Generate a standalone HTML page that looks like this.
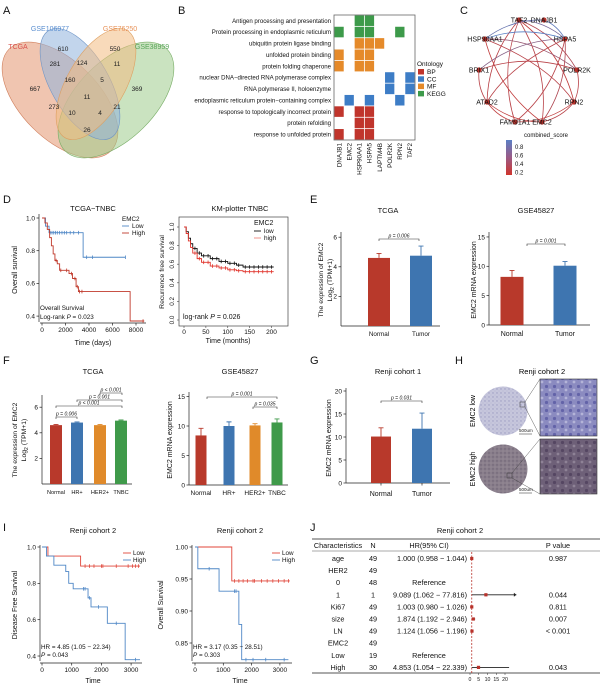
<!DOCTYPE html>
<html><head><meta charset="utf-8"><style>
html,body{margin:0;padding:0;background:#fff}
svg{display:block;font-family:"Liberation Sans",sans-serif}
</style></head><body>
<svg id="fig" width="604" height="685" viewBox="0 0 604 685" xmlns="http://www.w3.org/2000/svg">
<defs>
<linearGradient id="cbar" x1="0" y1="0" x2="0" y2="1"><stop offset="0" stop-color="#5b7fc4"/><stop offset="0.5" stop-color="#9a5a86"/><stop offset="1" stop-color="#d0352c"/></linearGradient>
<pattern id="pLow" width="4" height="4" patternUnits="userSpaceOnUse"><rect width="4" height="4" fill="#c6c6dc"/><circle cx="1" cy="1" r="0.7" fill="#9a9ac0"/><circle cx="3" cy="3" r="0.5" fill="#b0b0cc"/></pattern>
<pattern id="pLowZ" width="8" height="8" patternUnits="userSpaceOnUse"><rect width="8" height="8" fill="#8b8bc0"/><circle cx="2.5" cy="2.5" r="1.6" fill="#6363a8"/><circle cx="6" cy="6" r="1.4" fill="#b4b4d8"/></pattern>
<pattern id="pHigh" width="4" height="4" patternUnits="userSpaceOnUse"><rect width="4" height="4" fill="#8a7f8c"/><circle cx="1" cy="1" r="0.7" fill="#6a5e70"/><circle cx="3" cy="3" r="0.5" fill="#a49aa4"/></pattern>
<pattern id="pHighZ" width="8" height="8" patternUnits="userSpaceOnUse"><rect width="8" height="8" fill="#6e6078"/><circle cx="2.5" cy="2.5" r="1.6" fill="#554662"/><circle cx="6" cy="6" r="1.4" fill="#8e8296"/></pattern>
</defs>
<g font-size="11" fill="#111">
<text x="3" y="14">A</text>
<text x="178" y="14">B</text>
<text x="460" y="14">C</text>
<text x="3" y="203">D</text>
<text x="310" y="203">E</text>
<text x="3" y="364">F</text>
<text x="310" y="364">G</text>
<text x="455" y="364">H</text>
<text x="3" y="531">I</text>
<text x="310" y="531">J</text>
</g>
<!-- Venn -->
<g stroke-width="0.6">
<ellipse cx="60" cy="100" rx="72" ry="39" transform="rotate(45 60 100)" fill="#e3956f" fill-opacity="0.55" stroke="#d07f5c"/>
<ellipse cx="116" cy="100" rx="72" ry="39" transform="rotate(-45 116 100)" fill="#9fcc8c" fill-opacity="0.55" stroke="#78ad66"/>
<ellipse cx="80" cy="84" rx="62" ry="29" transform="rotate(60 80 84)" fill="#8fb2dc" fill-opacity="0.55" stroke="#6f95c6"/>
<ellipse cx="96" cy="84" rx="62" ry="29" transform="rotate(-60 96 84)" fill="#f2bb82" fill-opacity="0.55" stroke="#dd9f60"/>
</g>
<g font-size="7" text-anchor="middle">
<text x="18" y="49" fill="#d9534f">TCGA</text>
<text x="50" y="31" fill="#5b8fd0">GSE106977</text>
<text x="120" y="31" fill="#e8935a">GSE76250</text>
<text x="152" y="49" fill="#5aa55a">GSE38959</text>
</g>
<g font-size="6.5" text-anchor="middle" fill="#222">
<text x="63" y="51">610</text><text x="115" y="51">550</text><text x="55" y="66">281</text><text x="82" y="65">124</text><text x="117" y="66">11</text>
<text x="70" y="82">160</text><text x="102" y="82">5</text><text x="35" y="91">667</text><text x="87" y="99">11</text><text x="137" y="91">369</text>
<text x="54" y="109">273</text><text x="72" y="115">10</text><text x="100" y="115">4</text><text x="117" y="109">21</text><text x="87" y="132">26</text>
</g>
<g id="g-heat"></g>
<g id="g-net"></g>
<g id="g-d1"></g>
<g id="g-d2"></g>
<g id="g-e1"></g>
<g id="g-e2"></g>
<g id="g-f1"></g>
<g id="g-f2"></g>
<g id="g-g"></g>
<!-- H -->
<g>
<text x="542" y="374" font-size="7.5" text-anchor="middle">Renji cohort 2</text>
<circle cx="503" cy="411" r="24.5" fill="url(#pLow)"/>
<rect x="540" y="379" width="57" height="57" fill="url(#pLowZ)" stroke="#333" stroke-width="0.6"/>
<rect x="520" y="402" width="5" height="5" fill="none" stroke="#333" stroke-width="0.5"/>
<line x1="525" y1="402" x2="540" y2="379" stroke="#333" stroke-width="0.4"/><line x1="525" y1="407" x2="540" y2="436" stroke="#333" stroke-width="0.4"/>
<circle cx="503" cy="469" r="24.5" fill="url(#pHigh)"/>
<rect x="540" y="439" width="57" height="55" fill="url(#pHighZ)" stroke="#333" stroke-width="0.6"/>
<rect x="507" y="473" width="5" height="5" fill="none" stroke="#333" stroke-width="0.5"/>
<line x1="512" y1="473" x2="540" y2="439" stroke="#333" stroke-width="0.4"/><line x1="512" y1="478" x2="540" y2="494" stroke="#333" stroke-width="0.4"/>
<text x="519" y="432" font-size="4.5" fill="#222">500um</text><line x1="519" y1="434" x2="532" y2="434" stroke="#222" stroke-width="0.5"/>
<text x="519" y="491" font-size="4.5" fill="#222">500um</text><line x1="519" y1="493" x2="532" y2="493" stroke="#222" stroke-width="0.5"/>
<text transform="translate(475 411) rotate(-90)" font-size="7" text-anchor="middle">EMC2 low</text>
<text transform="translate(475 469) rotate(-90)" font-size="7" text-anchor="middle">EMC2 high</text>
</g>
<g id="g-i1"></g>
<g id="g-i2"></g>
<g id="g-j"></g>
</svg>
<script>
// ---------- data ----------
const heatRows=["Antigen processing and presentation","Protein processing in endoplasmic reticulum","ubiquitin protein ligase binding","unfolded protein binding","protein folding chaperone","nuclear DNA\u2212directed RNA polymerase complex","RNA polymerase II, holoenzyme","endoplasmic reticulum protein\u2212containing complex","response to topologically incorrect protein","protein refolding","response to unfolded protein"];
const heatCols=["DNAJB1","EMC2","HSP90AA1","HSPA5","LAPTM4B","POLR2K","RPN2","TAF2"];
const heatCells=[["KEGG",[2,3]],["KEGG",[0,2,3,6]],["MF",[2,3,4]],["MF",[0,2,3]],["MF",[0,2,3]],["CC",[5,7]],["CC",[5,7]],["CC",[1,3,6]],["BP",[0,2,3]],["BP",[2,3]],["BP",[0,2,3]]];
const ontology=["BP","CC","MF","KEGG"];
const ontoColor={BP:"#c0352c",CC:"#3d7dc6",MF:"#e58a2a",KEGG:"#3d9a4a"};

const netNodes=["TAF2","DNAJB1","HSPA5","POLR2K","RPN2","EMC2","FAM91A1","ATAD2","BRIX1","HSP90AA1"];
const netEdges=[["TAF2","EMC2",0.3],["TAF2","RPN2",0.25],["TAF2","ATAD2",0.3],["TAF2","POLR2K",0.35],["TAF2","HSPA5",0.7],["TAF2","FAM91A1",0.3],["HSP90AA1","HSPA5",0.9],["HSP90AA1","DNAJB1",0.8],["DNAJB1","HSPA5",0.85],["HSP90AA1","POLR2K",0.5],["HSP90AA1","RPN2",0.3],["HSP90AA1","EMC2",0.25],["HSPA5","FAM91A1",0.3],["HSPA5","ATAD2",0.3],["HSPA5","EMC2",0.35],["HSPA5","BRIX1",0.6],["BRIX1","POLR2K",0.3],["BRIX1","ATAD2",0.3],["ATAD2","FAM91A1",0.25],["ATAD2","EMC2",0.25],["EMC2","RPN2",0.3],["FAM91A1","RPN2",0.25],["RPN2","POLR2K",0.3]];

const d1LowT=[0,300,600,3500,7100]; const d1LowS=[1,0.95,0.91,0.76,0.76];
const d1LowC=[700,850,1000,1150,1300,1500,1700,1900,2100,2400,2700,3100,3800,4300,7100];
const d1HighT=[0,250,450,650,800,950,1100,1300,1500,1800,2300,2600,2900,3100,7500,8700];
const d1HighS=[1,0.97,0.93,0.88,0.83,0.78,0.74,0.72,0.68,0.68,0.66,0.63,0.58,0.55,0.37,0.37];
const d1HighC=[1200,1600,2100,2500,2800,3000,3200,3400,8600];

const d2LowT=[0,5,10,15,20,30,40,60,80,100,120,135,205];
const d2LowS=[1,0.95,0.88,0.82,0.77,0.72,0.69,0.66,0.63,0.61,0.59,0.57,0.57];
const d2HighS=[1,0.93,0.85,0.78,0.72,0.66,0.62,0.58,0.56,0.54,0.53,0.52,0.52];
const d2Cens=[25,35,45,55,65,75,85,95,105,115,125,140,150,160,170,180,190,200];

const eCats=["Normal","Tumor"];
const e1Vals=[4.6,4.75]; const e1Err=[4.9,5.4];
const e2Vals=[8.2,10.1]; const e2Err=[9.3,10.8];
const fCats=["Normal","HR+","HER2+","TNBC"];
const f1Vals=[4.6,4.8,4.6,4.95]; const f1Err=[4.65,4.85,4.65,5.0];
const f2Vals=[8.4,10.0,10.1,10.6]; const f2Err=[9.6,10.7,10.4,11.2];
const gVals=[10.1,11.8]; const gErr=[12.0,15.2];
const barColors=["#b8392b","#3e75b0","#e08a2a","#3f9a4a"];

const i1LowT=[0,200,1300,3300]; const i1LowS=[1,0.95,0.895,0.895];
const i1LowC=[1450,1600,1750,2000,2050,2500,2900,3050,3150,3250];
const i1HighT=[0,150,400,800,900,1050,1550,1650,2200,2800,3300];
const i1HighS=[1,0.95,0.9,0.865,0.8,0.77,0.72,0.67,0.58,0.38,0.38];
const i1HighC=[1400,1450,1600,1900,2500,3150];
const i2LowT=[0,1300,3350]; const i2LowS=[1,0.947,0.947];
const i2LowC=[1400,1550,1700,1850,2050,2100,2350,2550,2750,2950,3150,3300];
const i2HighT=[0,100,850,1550,1650,3300]; const i2HighS=[1,0.966,0.931,0.879,0.824,0.824];
const i2HighC=[500,1400,1450,1800,2050,2500,3150];

const jLabels=["age","HER2","0","1","Ki67","size","LN","EMC2","Low","High"];
const jN=["49","49","48","1","49","49","49","49","19","30"];
const jHRtext=["1.000 (0.958 \u2212 1.044)","","Reference","9.089 (1.062 \u2212 77.816)","1.003 (0.980 \u2212 1.026)","1.874 (1.192 \u2212 2.946)","1.124 (1.056 \u2212 1.196)","","Reference","4.853 (1.054 \u2212 22.339)"];
const jHR=[1.0,null,null,9.089,1.003,1.874,1.124,null,null,4.853];
const jLo=[0.958,null,null,1.062,0.980,1.192,1.056,null,null,1.054];
const jHi=[1.044,null,null,77.816,1.026,2.946,1.196,null,null,22.339];
const jP=["0.987","","","0.044","0.811","0.007","< 0.001","","","0.043"];
const jTicks=[0,5,10,15,20];

// ---------- helpers ----------
const NS="http://www.w3.org/2000/svg";
function mk(tag,attrs,parent){const e=document.createElementNS(NS,tag);for(const k in attrs)e.setAttribute(k,attrs[k]);parent.appendChild(e);return e;}
function tx(parent,x,y,s,size,anchor,extra){const e=mk("text",Object.assign({x:x,y:y,"font-size":size,"text-anchor":anchor||"start",fill:"#111"},extra||{}),parent);e.textContent=s;return e;}
function yAxis(g,x,ys,ticks,labels,y0,y1,size){
  const l=mk("line",{x1:x,x2:x,y1:y0,y2:y1,stroke:"#222","stroke-width":0.7},g);
  
  
  ticks.forEach((v,i)=>{const t=mk("line",{x1:x-2.5,x2:x,y1:ys(v),y2:ys(v),stroke:"#222","stroke-width":0.7},g);
    
    
    const lb=tx(g,x-4,ys(v)+2.3,labels[i],size||6.5,"end");
    
    });
}
function xAxis(g,y,xs,ticks,labels,x0,x1,size){
  const l=mk("line",{x1:x0,x2:x1,y1:y,y2:y,stroke:"#222","stroke-width":0.7},g);
  
  
  ticks.forEach((v,i)=>{const t=mk("line",{x1:xs(v),x2:xs(v),y1:y,y2:y+2.5,stroke:"#222","stroke-width":0.7},g);
    
    
    const lb=tx(g,xs(v),y+9,labels[i],size||6.5,"middle");
    
    });
}
function rotLabel(g,x,y,s,size){const e=tx(g,0,0,s,size||7,"middle",{transform:`translate(${x} ${y}) rotate(-90)`});return e;}
function stepPath(T,S,xs,ys){let d=`M${xs(T[0])},${ys(S[0])}`;for(let i=1;i<T.length;i++)d+=`H${xs(T[i])}V${ys(S[i])}`;return d;}
function survAt(T,S,t){let s=S[0];for(let i=0;i<T.length;i++)if(T[i]<=t)s=S[i];return s;}
function km(g,T,S,C,xs,ys,color,name){
  const p=mk("path",{d:stepPath(T,S,xs,ys),fill:"none",stroke:color,"stroke-width":0.9},g);
  
  
  C.forEach(c=>{const y=ys(survAt(T,S,c));const m=mk("line",{x1:xs(c),x2:xs(c),y1:y-1.8,y2:y+1.8,stroke:color,"stroke-width":0.8},g);
    
    });
}
function bars(g,cats,vals,errs,xc,w,ys,base,labelY,lsize){
  cats.forEach((c,i)=>{
    const r=mk("rect",{x:xc[i]-w/2,y:ys(vals[i]),width:w,height:base-ys(vals[i]),fill:barColors[i]},g);
    
    
    const e=mk("path",{d:`M${xc[i]},${ys(vals[i])}V${ys(errs[i])}M${xc[i]-2.5},${ys(errs[i])}H${xc[i]+2.5}`,stroke:barColors[i],"stroke-width":0.9,fill:"none"},g);
    
    
    const l=tx(g,xc[i],labelY,c,lsize||6.5,"middle");
    
    
  });
}
function bracket(g,x1,x2,y,s){
  const p=mk("path",{d:`M${x1},${y+2}V${y}H${x2}V${y+2}`,fill:"none",stroke:"#333","stroke-width":0.6},g);
  
  
  const t=tx(g,(x1+x2)/2,y-1.5,s,5,"middle",{"font-style":"italic"});
  
  
}

// ---------- B heatmap ----------
(function(){
  const g=document.getElementById("g-heat");
  const bx=334,by=15,bw=81,bh=125,cw=bw/heatCols.length,rh=bh/heatRows.length;
  heatCells.forEach((row,r)=>{row[1].forEach(c=>{
    const e=mk("rect",{x:bx+c*cw+0.4,y:by+r*rh+0.4,width:cw-0.8,height:rh-0.8,fill:ontoColor[row[0]]},g);
    
    });});
  const b=mk("rect",{x:bx,y:by,width:bw,height:bh,fill:"none",stroke:"#666","stroke-width":0.8},g);
  
  
  heatRows.forEach((s,r)=>{const t=tx(g,bx-3,by+(r+0.5)*rh+2.2,s,6.1,"end");
    
    });
  heatCols.forEach((s,c)=>{const t=tx(g,0,0,s,6.3,"end",{transform:`translate(${bx+(c+0.5)*cw+2.2} ${by+bh+3}) rotate(-90)`});
    
    });
  const lt=tx(g,417,66,"Ontology",6.5,"start");
  
  
  ontology.forEach((o,i)=>{const y=69+i*7.3;
    const r=mk("rect",{x:418,y:y,width:6,height:5.5,fill:ontoColor[o]},g);
    
    
    const t=tx(g,427,y+5,o,6.5,"start");
    
    });
})();

// ---------- C network ----------
(function(){
  const g=document.getElementById("g-net");
  const pos={TAF2:[519,20],DNAJB1:[544,20],HSPA5:[565,39],POLR2K:[577,70],RPN2:[574,102],EMC2:[542,122],FAM91A1:[515,122],ATAD2:[487,102],BRIX1:[479,70],HSP90AA1:[485,39]};
  const cx=528,cy=71;
  const col=s=>{const t=Math.min(1,Math.max(0,(s-0.2)/0.7));const r=Math.round(200+(85-200)*t),gg=Math.round(55+(125-55)*t),b=Math.round(50+(195-50)*t);return `rgb(${r},${gg},${b})`;};
  netEdges.forEach(e=>{const a=pos[e[0]],b=pos[e[1]];const mx=(a[0]+b[0])/2,my=(a[1]+b[1])/2;
    let dx=mx-cx,dy=my-cy;const L=Math.hypot(dx,dy)||1;const len=Math.hypot(b[0]-a[0],b[1]-a[1]);
    const k=0.18*len;const qx=mx+dx/L*k,qy=my+dy/L*k;
    const p=mk("path",{d:`M${a[0]},${a[1]}Q${qx},${qy} ${b[0]},${b[1]}`,fill:"none",stroke:col(e[2]),"stroke-width":0.8},g);
    
    });
  netNodes.forEach(n=>{const p=pos[n];
    const c=mk("circle",{cx:p[0],cy:p[1],r:2.6,fill:"#b8322b"},g);
    
    
    const t=tx(g,p[0],p[1]+2.5,n,7,"middle");
    
    });
  const ct=tx(g,546,137,"combined_score",6,"middle");
  
  
  const cb=mk("rect",{x:506,y:140,width:6,height:35,fill:"url(#cbar)"},g);
  
  
  ["0.8","0.6","0.4","0.2"].forEach((s,i)=>{const t=tx(g,515,149+i*8.5,s,6,"start");
    
    });
})();

// ---------- D left ----------
(function(){
  const g=document.getElementById("g-d1");
  const xs=t=>42+t*0.01175, ys=s=>218+(1-s)*163.5;
  yAxis(g,39,ys,[1.0,0.8,0.6,0.4],["1.0","0.8","0.6","0.4"],214,322);
  xAxis(g,323,xs,[0,2000,4000,6000,8000],["0","2000","4000","6000","8000"],40,146);
  km(g,d1LowT,d1LowS,d1LowC,xs,ys,"#4f87c6","low");
  km(g,d1HighT,d1HighS,d1HighC,xs,ys,"#c0392b","high");
  let t=tx(g,93,211,"TCGA\u2212TNBC",7.5,"middle");  
  t=tx(g,93,345,"Time (days)",7,"middle");  
  t=rotLabel(g,17,270,"Overall survival",7);  
  t=tx(g,40,310,"Overall Survival",6.3,"start");  
  t=tx(g,40,319,"Log-rank ",6.3,"start");  
  t.innerHTML='Log-rank <tspan font-style="italic">P</tspan> = 0.023';
  t=tx(g,122,221,"EMC2",6.3,"start");  
  [["Low","#4f87c6",228],["High","#c0392b",235]].forEach(a=>{const l=mk("line",{x1:122,x2:129,y1:a[2]-2,y2:a[2]-2,stroke:a[1],"stroke-width":0.9},g);
     
    const q=tx(g,132,a[2],a[0],6.3,"start");  });
})();

// ---------- D right ----------
(function(){
  const g=document.getElementById("g-d2");
  const xs=t=>184+t*0.4375, ys=s=>320-s*93;
  const fr=mk("rect",{x:179,y:217,width:109,height:109,fill:"none",stroke:"#444","stroke-width":0.7},g);
   
  [0,0.2,0.4,0.6,0.8,1.0].forEach(v=>{const l=mk("line",{x1:177,x2:179,y1:ys(v),y2:ys(v),stroke:"#444","stroke-width":0.6},g);
     
    const t=tx(g,0,0,v.toFixed(1),6.3,"middle",{transform:`translate(174 ${ys(v)}) rotate(-90)`});
     });
  [0,50,100,150,200].forEach(v=>{const l=mk("line",{x1:xs(v),x2:xs(v),y1:326,y2:328,stroke:"#444","stroke-width":0.6},g);
     
    const t=tx(g,xs(v),334,String(v),6.5,"middle");  });
  km(g,d2LowT,d2LowS,d2Cens,xs,ys,"#111","low");
  km(g,d2LowT,d2HighS,d2Cens,xs,ys,"#e0322a","high");
  let t=tx(g,240,211,"KM-plotter TNBC",7.5,"middle");  
  t=tx(g,228,343,"Time (months)",7,"middle");  
  t=rotLabel(g,164,272,"Recurrence free survival",6.8);  
  t=tx(g,183,319,"",7,"start");  
  t.innerHTML='log-rank <tspan font-style="italic">P</tspan> = 0.026';
  t=tx(g,254,225,"EMC2",7,"start");  
  [["low","#111",233],["high","#f08a80",240]].forEach(a=>{const l=mk("line",{x1:254,x2:261,y1:a[2]-2,y2:a[2]-2,stroke:a[1],"stroke-width":0.9},g);
     
    const q=tx(g,264,a[2],a[0],6.5,"start");  });
})();

// ---------- E ----------
(function(){
  let g=document.getElementById("g-e1");
  let ys=v=>326-v*14.8;
  yAxis(g,341,ys,[2,4,6],["2","4","6"],232,326);
  let xl=mk("line",{x1:341,x2:440,y1:326,y2:326,stroke:"#222","stroke-width":0.7},g);  
  bars(g,eCats,e1Vals,e1Err,[379,421],22,ys,326,336,6.3);
  bracket(g,379,419,239,"p = 0.006");
  let t=tx(g,388,213,"TCGA",7.5,"middle");  
  t=rotLabel(g,323,280,"The expression of EMC2",6.8);  
  t=rotLabel(g,332,280,"",6.8);  
  t.innerHTML='Log<tspan font-size="5" dy="2">2</tspan><tspan dy="-2"> (TPM+1)</tspan>';
  g=document.getElementById("g-e2");
  ys=v=>325-v*5.87;
  yAxis(g,489,ys,[0,5,10,15],["0","5","10","15"],232,325);
  xl=mk("line",{x1:489,x2:590,y1:325,y2:325,stroke:"#222","stroke-width":0.7},g);  
  bars(g,eCats,e2Vals,e2Err,[512,565],23,ys,325,336,7);
  bracket(g,527,565,244,"p = 0.001");
  t=tx(g,536,213,"GSE45827",7.5,"middle");  
  t=rotLabel(g,476,280,"EMC2 mRNA expression",7);  
})();

// ---------- F ----------
(function(){
  let g=document.getElementById("g-f1");
  let ys=v=>484-v*12.8;
  yAxis(g,42,ys,[2,4,6],["2","4","6"],395,484);
  let xl=mk("line",{x1:42,x2:132,y1:484,y2:484,stroke:"#222","stroke-width":0.7},g);  
  bars(g,fCats,f1Vals,f1Err,[56,77,100,121],12,ys,484,494,5.6);
  bracket(g,56,77,417,"p = 0.006");
  bracket(g,56,122,406,"p < 0.001");
  bracket(g,77,122,400,"p = 0.001");
  bracket(g,100,122,393,"p < 0.001");
  let t=tx(g,93,374,"TCGA",7.5,"middle");  
  t=rotLabel(g,17,440,"The expression of EMC2",6.8);  
  t=rotLabel(g,26,440,"",6.8);  
  t.innerHTML='Log<tspan font-size="5" dy="2">2</tspan><tspan dy="-2"> (TPM+1)</tspan>';
  g=document.getElementById("g-f2");
  ys=v=>485-v*5.9;
  yAxis(g,189,ys,[0,5,10,15],["0","5","10","15"],392,485);
  xl=mk("line",{x1:189,x2:288,y1:485,y2:485,stroke:"#222","stroke-width":0.7},g);  
  bars(g,fCats,f2Vals,f2Err,[201,229,255,277],11,ys,485,495,6.5);
  bracket(g,207,277,397,"p = 0.001");
  bracket(g,253,277,407,"p = 0.035");
  t=tx(g,240,374,"GSE45827",7.5,"middle");  
  t=rotLabel(g,172,440,"EMC2 mRNA expression",7);  
})();

// ---------- G ----------
(function(){
  const g=document.getElementById("g-g");
  const ys=v=>483-v*4.6;
  yAxis(g,346,ys,[0,5,10,15,20],["0","5","10","15","20"],388,483);
  const xl=mk("line",{x1:346,x2:450,y1:483,y2:483,stroke:"#222","stroke-width":0.7},g);  
  [381,422].forEach(x=>{const k=mk("line",{x1:x,x2:x,y1:483,y2:485.5,stroke:"#222","stroke-width":0.7},g);  });
  bars(g,eCats,gVals,gErr,[381,422],20,ys,483,496,7);
  bracket(g,381,422,401,"p = 0.031");
  let t=tx(g,398,374,"Renji cohort 1",7.5,"middle");  
  t=rotLabel(g,331,438,"EMC2 mRNA expression",7);  
})();

// ---------- I ----------
(function(){
  let g=document.getElementById("g-i1");
  let xs=t=>42+t*0.0297, ys=s=>547+(1-s)*181.7;
  yAxis(g,40,ys,[1.0,0.8,0.6,0.4],["1.0","0.8","0.6","0.4"],545,661);
  xAxis(g,663,xs,[0,1000,2000,3000],["0","1000","2000","3000"],40,142);
  km(g,i1LowT,i1LowS,i1LowC,xs,ys,"#e0463a","low");
  km(g,i1HighT,i1HighS,i1HighC,xs,ys,"#4f87c6","high");
  let t=tx(g,93,533,"Renji cohort 2",7.5,"middle");  
  t=tx(g,93,683,"Time",7,"middle");  
  t=rotLabel(g,17,605,"Disease Free Survival",7);  
  t=tx(g,41,649,"HR = 4.85 (1.05 \u2212 22.34)",6.3,"start");  
  t=tx(g,41,657,"",6.3,"start");  
  t.innerHTML='<tspan font-style="italic">P</tspan> = 0.043';
  [["Low","#e0463a",555],["High","#4f87c6",562]].forEach(a=>{const l=mk("line",{x1:123,x2:131,y1:a[2]-2,y2:a[2]-2,stroke:a[1],"stroke-width":0.9},g);
     
    const q=tx(g,133,a[2],a[0],6.3,"start");  });
  g=document.getElementById("g-i2");
  xs=t=>195+t*0.0283; ys=s=>547+(1-s)*640;
  yAxis(g,192,ys,[1.0,0.95,0.9,0.85],["1.00","0.95","0.90","0.85"],545,661);
  xAxis(g,663,xs,[0,1000,2000,3000],["0","1000","2000","3000"],192,292);
  km(g,i2LowT,i2LowS,i2LowC,xs,ys,"#e0463a","low");
  km(g,i2HighT,i2HighS,i2HighC,xs,ys,"#4f87c6","high");
  t=tx(g,240,533,"Renji cohort 2",7.5,"middle");  
  t=tx(g,240,683,"Time",7,"middle");  
  t=rotLabel(g,163,605,"Overall Survival",7);  
  t=tx(g,193,649,"HR = 3.17 (0.35 \u2212 28.51)",6.3,"start");  
  t=tx(g,193,657,"",6.3,"start");  
  t.innerHTML='<tspan font-style="italic">P</tspan> = 0.303';
  [["Low","#e0463a",555],["High","#4f87c6",562]].forEach(a=>{const l=mk("line",{x1:272,x2:280,y1:a[2]-2,y2:a[2]-2,stroke:a[1],"stroke-width":0.9},g);
     
    const q=tx(g,282,a[2],a[0],6.3,"start");  });
})();

// ---------- J forest ----------
(function(){
  const g=document.getElementById("g-j");
  const xs=h=>470+Math.min(h,26.5)*1.75;
  let t=tx(g,460,533,"Renji cohort 2",7.5,"middle");  
  [[539,1],[551,0.5],[673,1]].forEach(a=>{const l=mk("line",{x1:312,x2:600,y1:a[0],y2:a[0],stroke:"#555","stroke-width":a[1]},g);
     });
  [["Characteristics",338],["N",373],["HR(95% CI)",429],["P value",558]].forEach(a=>{const h=tx(g,a[1],548,a[0],7.3,"middle");
     });
  const dl=mk("line",{x1:xs(1),x2:xs(1),y1:552,y2:673,stroke:"#b8322b","stroke-width":0.8,"stroke-dasharray":"2,1.5"},g);
   
  jLabels.forEach((s,i)=>{const y=558+i*12.1+3;
    let c=tx(g,338,y,s,7.3,"middle");  
    c=tx(g,373,y,jN[i],7.3,"middle");  
    c=tx(g,jHRtext[i]==="Reference"?429:467,y,jHRtext[i],7.3,jHRtext[i]==="Reference"?"middle":"end");  
    c=tx(g,558,y,jP[i],7.3,"middle");  
    if(jHR[i]!==null){
      const ci=mk("line",{x1:xs(jLo[i]),x2:xs(jHi[i]),y1:y-2.5,y2:y-2.5,stroke:"#222","stroke-width":0.9},g);
       
      if(jHi[i]>26.5){const ar=mk("path",{d:`M${xs(jHi[i])-2.5},${y-4.5}L${xs(jHi[i])},${y-2.5}L${xs(jHi[i])-2.5},${y-0.5}Z`,fill:"#222"},g);
         }
      const pt=mk("rect",{x:xs(jHR[i])-1.6,y:y-4.1,width:3.2,height:3.2,fill:"#b8322b"},g);
       
    }
  });
  jTicks.forEach(v=>{const l=mk("line",{x1:xs(v),x2:xs(v),y1:673,y2:675,stroke:"#333","stroke-width":0.5},g);
     
    const q=tx(g,xs(v),681,String(v),5.2,"middle");  });
})();
</script>
</body></html>
